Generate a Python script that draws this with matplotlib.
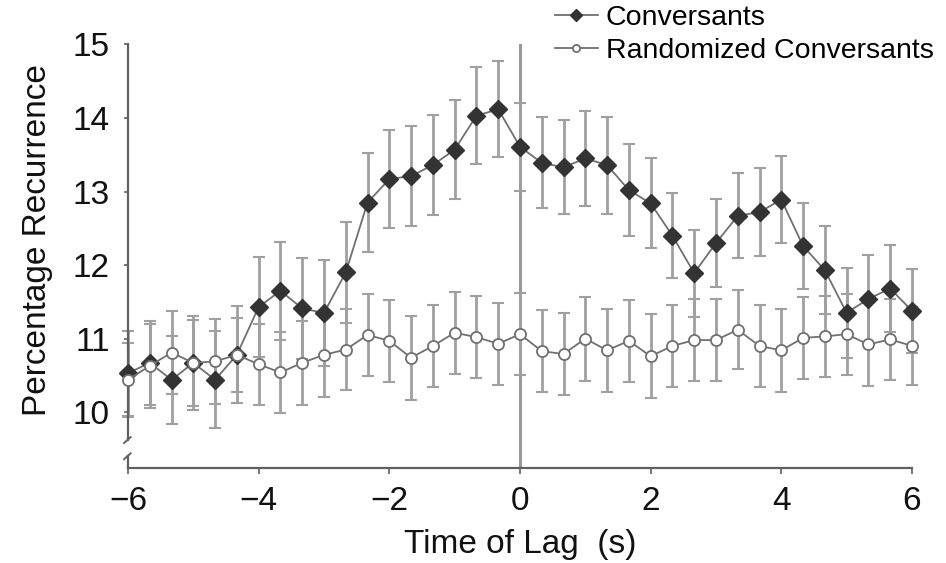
import numpy as np
import matplotlib.pyplot as plt

plt.rcParams['font.family'] = ['Liberation Sans', 'DejaVu Sans']

# lag in seconds, -6..6 in thirds
lag = np.arange(-18, 19) / 3.0

conv = [10.53, 10.67, 10.44, 10.67, 10.44, 10.78, 11.43, 11.65, 11.41, 11.35,
        11.90, 12.85, 13.17, 13.21, 13.36, 13.57, 14.03, 14.12, 13.61, 13.39,
        13.33, 13.45, 13.36, 13.02, 12.84, 12.40, 11.89, 12.30, 12.67, 12.72,
        12.89, 12.26, 11.93, 11.35, 11.54, 11.68, 11.38]
conv_err = [0.58, 0.57, 0.60, 0.64, 0.66, 0.66, 0.68, 0.67, 0.69, 0.72,
            0.69, 0.67, 0.67, 0.68, 0.68, 0.67, 0.66, 0.65, 0.60, 0.62,
            0.64, 0.65, 0.66, 0.62, 0.61, 0.58, 0.59, 0.60, 0.58, 0.60,
            0.59, 0.59, 0.60, 0.61, 0.60, 0.59, 0.57]

rand = [10.44, 10.63, 10.81, 10.67, 10.69, 10.78, 10.65, 10.54, 10.67, 10.78,
        10.85, 11.05, 10.97, 10.74, 10.90, 11.08, 11.02, 10.93, 11.06, 10.83,
        10.79, 11.00, 10.84, 10.97, 10.76, 10.90, 10.98, 10.98, 11.12, 10.90,
        10.84, 11.01, 11.03, 11.06, 10.92, 10.99, 10.90]
rand_err = [0.50, 0.57, 0.57, 0.58, 0.58, 0.50, 0.55, 0.55, 0.57, 0.57,
            0.55, 0.56, 0.56, 0.57, 0.56, 0.56, 0.56, 0.56, 0.56, 0.56,
            0.56, 0.57, 0.56, 0.56, 0.57, 0.56, 0.56, 0.56, 0.54, 0.56,
            0.56, 0.56, 0.55, 0.55, 0.56, 0.55, 0.53]

fig = plt.figure(figsize=(9.46, 5.63), dpi=100)
ax = fig.add_axes([0.1353, 0.1687, 0.8287, 0.7523])

ax.axvline(0, color='#9a9a9a', lw=2.2, zorder=1)

ekw = dict(ecolor='#a0a0a0', elinewidth=2.0, capsize=4.5, capthick=1.5)
for y, e in ((conv, conv_err), (rand, rand_err)):
    eb = ax.errorbar(lag, y, yerr=e, fmt='none', zorder=2, **ekw)
    for art in eb.lines[1] + eb.lines[2]:
        art.set_clip_on(False)

l1, = ax.plot(lag, conv, color='#707070', lw=1.3, marker='D', ms=9.5,
              mfc='#333333', mec='#333333', zorder=3, clip_on=False,
              label='Conversants')
l2, = ax.plot(lag, rand, color='#707070', lw=1.3, marker='o', ms=8,
              mfc='white', mec='#707070', mew=1.3, zorder=4, clip_on=False,
              label='Randomized Conversants')

ax.set_xlim(-6, 6)
ax.set_ylim(9.24, 15)
ax.set_xticks([-6, -4, -2, 0, 2, 4, 6])
ax.set_xticklabels(['\u22126', '\u22124', '\u22122', '0', '2', '4', '6'])
ax.set_yticks([10, 11, 12, 13, 14, 15])

for s in ['top', 'right']:
    ax.spines[s].set_visible(False)
for s in ['left', 'bottom']:
    ax.spines[s].set_color('#606060')
    ax.spines[s].set_linewidth(1.6)
ax.spines['left'].set_bounds(9.62, 15)

# axis break on the y axis
ax.plot([-6, -6], [9.24, 9.40], color='#606060', lw=1.6, clip_on=False)
for yb in (9.62, 9.40):
    ax.plot([-6.06, -5.96], [yb - 0.04, yb + 0.04], color='#606060', lw=1.4,
            clip_on=False)

ax.tick_params(axis='both', colors='#606060', labelcolor='#111111',
               labelsize=24, length=4, width=1.2)
ax.tick_params(axis='x', pad=9)
ax.tick_params(axis='y', length=3, pad=10)

ax.set_xlabel('Time of Lag  (s)', fontsize=24, color='#111111')
ax.set_ylabel('Percentage Recurrence', fontsize=24, color='#111111')
ax.xaxis.set_label_coords(0.5, -0.145)
ax.yaxis.set_label_coords(-0.096, 0.538)

fig.legend(handles=[l1, l2], loc='upper left', bbox_to_anchor=(0.5745, 1.011),
           frameon=False, fontsize=20.5, handlelength=1.5, handletextpad=0.28,
           labelspacing=0.25, borderaxespad=0, markerscale=0.65)

fig.savefig('out.png', dpi=100)
